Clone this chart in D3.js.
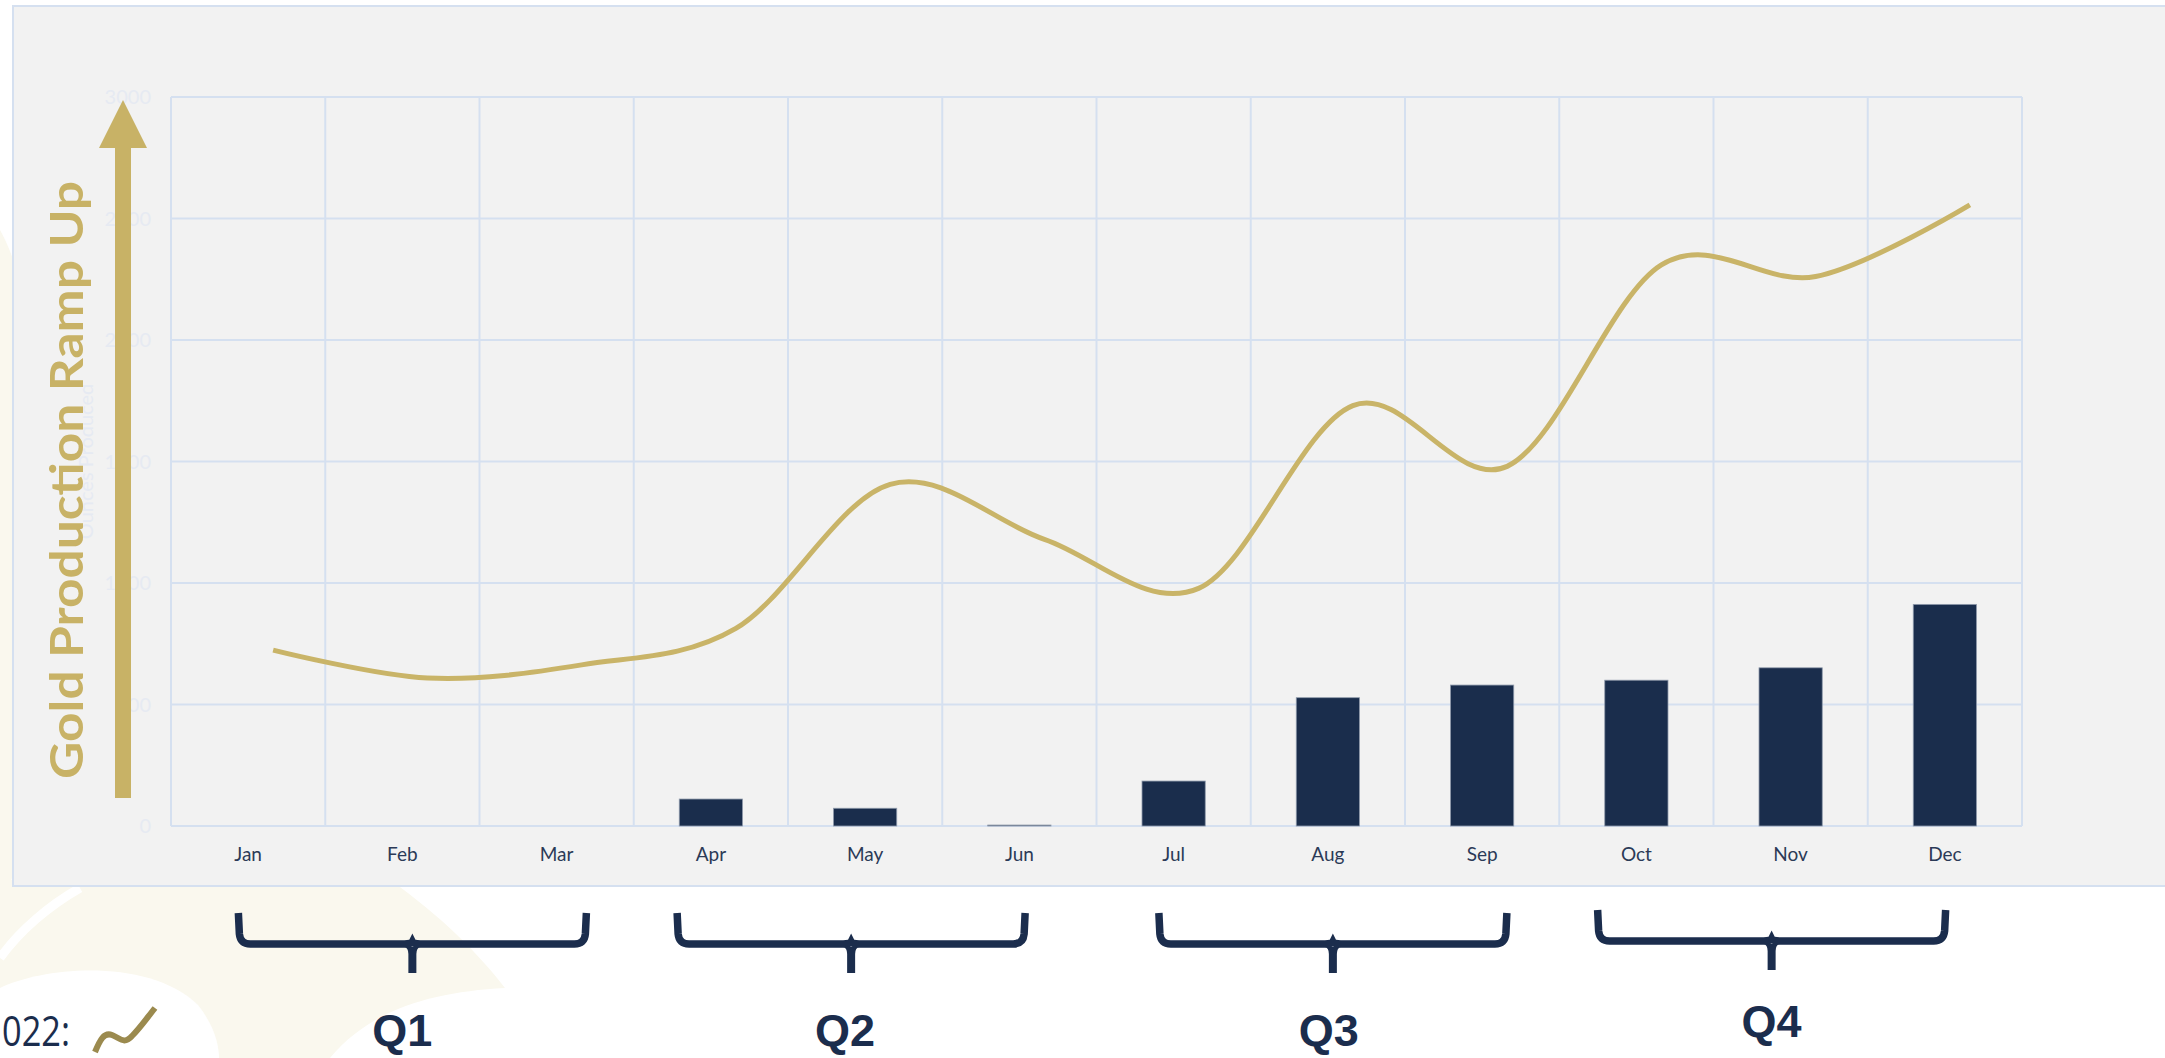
<!DOCTYPE html>
<html>
<head>
<meta charset="utf-8">
<script src="https://cdn.jsdelivr.net/npm/d3@7"></script>
<style>
  html, body { margin: 0; padding: 0; background: #ffffff; overflow: hidden; }
  svg { display: block; }
</style>
</head>
<body>
<svg id="chart" width="2165" height="1058"></svg>
<script>
// ---------------- data ----------------
const months = ["Jan","Feb","Mar","Apr","May","Jun","Jul","Aug","Sep","Oct","Nov","Dec"];
const ouncesProduced = [0, 0, 0, 111, 73, 4, 185, 528, 580, 600, 651, 912];
const rampUpTrend = [724, 609, 663, 813, 1406, 1180, 978, 1730, 1480, 2309, 2261, 2556];
const yTicks = [0, 500, 1000, 1500, 2000, 2500, 3000];
const quarterLabels = ["Q1", "Q2", "Q3", "Q4"];
const quarterMonths = [["Jan","Feb","Mar"],["Apr","May","Jun"],["Jul","Aug","Sep"],["Oct","Nov","Dec"]];
const yTitle = "Ounces Produced";
const arrowTitle = "Gold Production Ramp Up";
const footLabel = "022:";

// ---------------- layout ----------------
const W = 2165, H = 1058;
const plot = { left: 171, right: 2022, top: 97, bottom: 826 };
const NAVY = "#1b2d4d", GOLD = "#c8b266", GRID = "#d5e0f0";
const lineShift = 25;                 // trend line drawn slightly right of band centres
const braceShift = [10, -14, 5, -19]; // hand placement of braces (px)
const labelShift = [0, -20, 1, -19];
const braceLift = [0, 0, 0, 3];
const braceHalf = 174;

const svg = d3.select("#chart");

// background decoration
svg.append("rect").attr("width", W).attr("height", H).attr("fill", "#ffffff");
svg.append("path")
  .attr("d", "M0,230 C40,300 60,500 40,700 C30,800 20,880 0,900 Z")
  .attr("fill", "#faf8ee");
svg.append("path")
  .attr("d", "M0,880 L390,880 C440,915 480,955 505,988 C430,992 370,1010 330,1058 L0,1058 Z")
  .attr("fill", "#faf8ee");
svg.append("path")
  .attr("d", "M0,988 C45,966 150,958 198,1005 C214,1025 219,1045 219,1058 L0,1058 Z")
  .attr("fill", "#ffffff");
svg.append("path")
  .attr("d", "M0,958 C20,930 50,905 80,888")
  .attr("fill", "none").attr("stroke", "#ffffff").attr("stroke-width", 9);

// panel
svg.append("rect")
  .attr("x", 13).attr("y", 6).attr("width", W).attr("height", 880)
  .attr("fill", "#f2f2f2").attr("stroke", GRID).attr("stroke-width", 2);

// scales
const x = d3.scaleBand().domain(months).range([plot.left, plot.right]).padding(0);
const y = d3.scaleLinear().domain([0, 3000]).range([plot.bottom, plot.top]);
const bw = x.bandwidth();

// gridlines
const g = svg.append("g");
g.selectAll("line.h").data(yTicks).join("line")
  .attr("x1", plot.left).attr("x2", plot.right)
  .attr("y1", d => y(d)).attr("y2", d => y(d))
  .attr("stroke", GRID).attr("stroke-width", 2);
const vEdges = months.map(m => x(m)).concat([x(months[months.length - 1]) + bw]);
g.selectAll("line.v").data(vEdges).join("line")
  .attr("x1", d => d).attr("x2", d => d)
  .attr("y1", plot.top).attr("y2", plot.bottom)
  .attr("stroke", GRID).attr("stroke-width", 2);

// faint y tick labels
svg.append("g").selectAll("text").data(yTicks).join("text")
  .attr("x", 151).attr("y", d => y(d)).attr("dy", "0.35em")
  .attr("text-anchor", "end")
  .attr("font-family", "Lato, sans-serif").attr("font-size", 20)
  .attr("fill", "#e6eaf2")
  .text(d => d);

// faint y title
svg.append("text")
  .attr("transform", `translate(93,${(plot.top + plot.bottom) / 2}) rotate(-90)`)
  .attr("text-anchor", "middle")
  .attr("font-family", "Lato, sans-serif").attr("font-size", 20)
  .attr("fill", "#e6eaf2")
  .text(yTitle);

// month labels
svg.append("g").selectAll("text").data(months).join("text")
  .attr("x", d => x(d) + bw / 2).attr("y", 861)
  .attr("text-anchor", "middle")
  .attr("font-family", "Lato, sans-serif").attr("font-size", 19)
  .attr("fill", "#2b3a57")
  .text(d => d);

// bars
const barW = bw * 0.41;
svg.append("g").selectAll("rect").data(months.map((m, i) => ({ m, v: ouncesProduced[i] })).filter(d => d.v > 0)).join("rect")
  .attr("x", d => x(d.m) + (bw - barW) / 2)
  .attr("y", d => y(d.v))
  .attr("width", barW)
  .attr("height", d => y(0) - y(d.v))
  .attr("fill", "#1a2d4c")
  .attr("stroke", "#8f9aab").attr("stroke-width", 0.8);

// trend line
const line = d3.line()
  .x(d => x(d.m) + bw / 2 + lineShift)
  .y(d => y(d.v))
  .curve(d3.curveCardinal.tension(0));
svg.append("path")
  .datum(months.map((m, i) => ({ m, v: rampUpTrend[i] })))
  .attr("d", line)
  .attr("fill", "none").attr("stroke", "#c9b468").attr("stroke-width", 5);

// ramp-up arrow
svg.append("rect").attr("x", 115).attr("y", 146).attr("width", 16).attr("height", 652).attr("fill", GOLD);
svg.append("path").attr("d", "M123,100 L147,148 L99,148 Z").attr("fill", GOLD);
svg.append("text")
  .attr("transform", "translate(83,480) rotate(-90)")
  .attr("text-anchor", "middle")
  .attr("font-family", "Lato, sans-serif").attr("font-weight", 700).attr("font-size", 46)
  .attr("textLength", 598).attr("lengthAdjust", "spacingAndGlyphs")
  .attr("fill", GOLD)
  .text(arrowTitle);

// quarter braces
const qg = svg.append("g");
quarterMonths.forEach((ms, i) => {
  const c = x(ms[1]) + bw / 2 + braceShift[i];
  const L = c - braceHalf, R = c + braceHalf;
  const top = 913 - braceLift[i], bar = 944 - braceLift[i], tip = 973 - braceLift[i];
  qg.append("path")
    .attr("d", `M${L},${top} L${L + 1},${bar - 10} Q${L + 2},${bar} ${L + 12},${bar} L${c - 8},${bar} Q${c - 1},${bar} ${c},${bar - 2} Q${c + 1},${bar} ${c + 8},${bar} L${R - 12},${bar} Q${R - 2},${bar} ${R - 1},${bar - 10} L${R},${top}`)
    .attr("fill", "none").attr("stroke", NAVY).attr("stroke-width", 7.5);
  qg.append("path")
    .attr("d", `M${c - 8},${bar + 3} Q${c - 4},${bar + 4} ${c - 4},${bar + 10} L${c - 4},${tip} L${c + 4},${tip} L${c + 4},${bar + 10} Q${c + 4},${bar + 4} ${c + 8},${bar + 3} Z`)
    .attr("fill", NAVY);
  qg.append("text")
    .attr("x", x(ms[1]) + bw / 2 + labelShift[i]).attr("y", 1046 - braceLift[i] * 3)
    .attr("text-anchor", "middle")
    .attr("font-family", "'Liberation Sans', Arial, sans-serif").attr("font-weight", 700).attr("font-size", 45)
    .attr("fill", NAVY)
    .text(quarterLabels[i]);
});

// footer legend fragment
svg.append("text")
  .attr("x", 2).attr("y", 1046)
  .attr("text-anchor", "start")
  .attr("font-family", "'Open Sans', sans-serif").attr("font-size", 42)
  .attr("textLength", 68).attr("lengthAdjust", "spacingAndGlyphs")
  .attr("fill", NAVY)
  .text(footLabel);
svg.append("path")
  .attr("d", "M95,1052 C100,1040 104,1032 112,1035 C120,1038 124,1045 132,1036 C140,1028 147,1018 155,1008")
  .attr("fill", "none").attr("stroke", "#9b8a4e").attr("stroke-width", 6);
</script>
</body>
</html>
